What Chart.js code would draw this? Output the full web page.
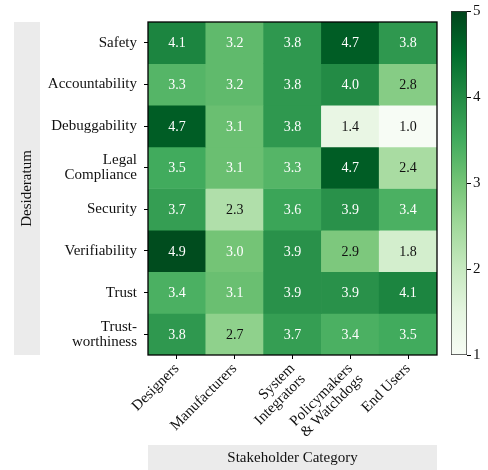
<!DOCTYPE html>
<html>
<head>
<meta charset="utf-8">
<script src="https://cdn.jsdelivr.net/npm/chart.js@4/dist/chart.umd.min.js"></script>
<style>
  body { margin: 0; background: #fff; }
  #wrap { position: relative; width: 488px; height: 470px; }
  #heat { position: absolute; left: 0; top: 0; }
  #bar { position: absolute; left: 440px; top: 0; }
</style>
</head>
<body>
<div id="wrap">
  <canvas id="heat" width="488" height="470"></canvas>
  <canvas id="bar" width="48" height="470"></canvas>
</div>
<script>
// Datos del mapa de calor
const stakeholders = ["Designers", "Manufacturers", ["System", "Integrators"], ["Policymakers", "& Watchdogs"], "End Users"];
const desiderata = ["Safety", "Accountability", "Debuggability", ["Legal", "Compliance"], "Security", "Verifiability", "Trust", ["Trust-", "worthiness"]];

const safety = [4.1, 3.2, 3.8, 4.7, 3.8];
const accountability = [3.3, 3.2, 3.8, 4.0, 2.8];
const debuggability = [4.7, 3.1, 3.8, 1.4, 1.0];
const legalCompliance = [3.5, 3.1, 3.3, 4.7, 2.4];
const security = [3.7, 2.3, 3.6, 3.9, 3.4];
const verifiability = [4.9, 3.0, 3.9, 2.9, 1.8];
const trust = [3.4, 3.1, 3.9, 3.9, 4.1];
const trustworthiness = [3.8, 2.7, 3.7, 3.4, 3.5];
const rows = [safety, accountability, debuggability, legalCompliance, security, verifiability, trust, trustworthiness];

const colorTicks = [1, 2, 3, 4, 5];
const vmin = 1, vmax = 5;

// Mapa de colores "Greens" (matplotlib)
const greens = ["#f7fcf5", "#e5f5e0", "#c7e9c0", "#a1d99b", "#74c476", "#41ab5d", "#238b45", "#006d2c", "#00441b"];

function hexToRgb(h) {
    return [parseInt(h.slice(1, 3), 16), parseInt(h.slice(3, 5), 16), parseInt(h.slice(5, 7), 16)];
}

function greenColor(v) {
    let t = (v - vmin) / (vmax - vmin);
    t = Math.max(0, Math.min(1, t)) * (greens.length - 1);
    let i = Math.min(Math.floor(t), greens.length - 2);
    let f = t - i;
    let a = hexToRgb(greens[i]), b = hexToRgb(greens[i + 1]);
    let c = a.map((x, k) => Math.round(x + (b[k] - x) * f));
    return "rgb(" + c.join(",") + ")";
}

const FONT = "'Liberation Serif', 'DejaVu Serif', serif";
Chart.defaults.font.family = FONT;
Chart.defaults.color = "#111";

// Cajas grises detras de los titulos de los ejes, borde y numeros en las celdas
const heatPlugin = {
    id: "heatPlugin",
    beforeDraw(chart) {
        const c = chart.ctx, a = chart.chartArea;
        c.save();
        c.fillStyle = "#ebebeb";
        c.fillRect(14, a.top, 26, a.bottom - a.top);
        c.fillRect(a.left, 445, a.right - a.left, 470 - 445);
        c.restore();
    },
    afterDatasetsDraw(chart) {
        const c = chart.ctx, a = chart.chartArea;
        c.save();
        c.font = "14px " + FONT;
        c.textAlign = "center";
        c.textBaseline = "middle";
        rows.forEach((row, r) => {
            const meta = chart.getDatasetMeta(r);
            meta.data.forEach((bar, i) => {
                const p = bar.getCenterPoint();
                c.fillStyle = row[i] >= 3 ? "#ffffff" : "#111111";
                c.fillText(row[i].toFixed(1), p.x, p.y + 1);
            });
        });
        c.strokeStyle = "#000";
        c.lineWidth = 1.3;
        c.strokeRect(a.left, a.top, a.right - a.left, a.bottom - a.top);
        c.restore();
    }
};

let heat = new Chart(document.getElementById("heat"), {
    type: "bar",
    data: {
        labels: stakeholders,
        datasets: rows.map(row => ({
            data: row.map(() => 1),
            backgroundColor: row.map(greenColor),
            borderWidth: 0,
            barPercentage: 1,
            categoryPercentage: 1
        }))
    },
    options: {
        responsive: false,
        animation: false,
        layout: { padding: { left: 14, top: 9, right: 51, bottom: 0 } },
        plugins: { legend: { display: false }, tooltip: { enabled: false } },
        scales: {
            x: {
                stacked: true,
                grid: { offset: false, drawOnChartArea: false, tickLength: 4, tickColor: "#000", tickWidth: 1 },
                border: { display: false },
                ticks: { minRotation: 45, maxRotation: 45, padding: 2, font: { size: 15, lineHeight: 1.0 }, color: "#111" },
                title: { display: true, text: "Stakeholder Category", font: { size: 15 }, color: "#111", padding: { top: 0, bottom: 3 } },
                afterFit(scale) { scale.height = 115; }
            },
            y: {
                stacked: true,
                reverse: true,
                min: 0,
                max: desiderata.length,
                afterBuildTicks(axis) {
                    axis.ticks = desiderata.map((_, i) => ({ value: i + 0.5 }));
                },
                grid: { drawOnChartArea: false, tickLength: 4, tickColor: "#000", tickWidth: 1 },
                border: { display: false },
                ticks: {
                    padding: 7,
                    font: { size: 15, lineHeight: 1.0 },
                    color: "#111",
                    callback: (v, i) => desiderata[i]
                },
                title: { display: true, text: "Desideratum", font: { size: 15 }, color: "#111", padding: { top: 4, bottom: 0 } },
                afterFit(scale) { scale.width = 134; }
            }
        }
    },
    plugins: [heatPlugin]
});

// Barra de color
let bar = new Chart(document.getElementById("bar"), {
    type: "bar",
    data: {
        labels: [""],
        datasets: [{
            data: [[vmin, vmax]],
            backgroundColor(ctx) {
                const a = ctx.chart.chartArea;
                if (!a) return greens[4];
                const g = ctx.chart.ctx.createLinearGradient(0, a.bottom, 0, a.top);
                greens.forEach((col, i) => g.addColorStop(i / (greens.length - 1), col));
                return g;
            },
            borderColor: "#333",
            borderWidth: 1,
            borderSkipped: false,
            barPercentage: 1,
            categoryPercentage: 1
        }]
    },
    options: {
        responsive: false,
        animation: false,
        layout: { padding: { left: 11, top: 9, right: 0, bottom: 115 } },
        plugins: { legend: { display: false }, tooltip: { enabled: false } },
        scales: {
            x: { display: false },
            y: {
                position: "right",
                min: vmin,
                max: vmax,
                afterBuildTicks(axis) {
                    axis.ticks = colorTicks.map(v => ({ value: v }));
                },
                grid: { drawOnChartArea: false, tickLength: 4, tickColor: "#000" },
                border: { display: false },
                ticks: { padding: 2, font: { size: 15 }, color: "#111" },
                afterFit(scale) { scale.width = 21; }
            }
        }
    }
});
</script>
</body>
</html>
